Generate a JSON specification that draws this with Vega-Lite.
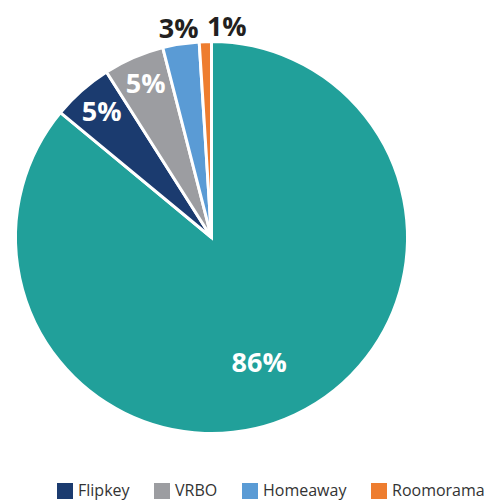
{
  "$schema": "https://vega.github.io/schema/vega-lite/v6.json",
  "width": 389,
  "height": 389,
  "autosize": {"type": "none"},
  "padding": {"left": 17, "top": 43, "right": 86, "bottom": 70},
  "background": "white",
  "data": {
    "values": [
      {"site": "Airbnb", "share": 0.86, "idx": 1},
      {"site": "Flipkey", "share": 0.05, "idx": 2},
      {"site": "VRBO", "share": 0.05, "idx": 3},
      {"site": "Homeaway", "share": 0.03, "idx": 4},
      {"site": "Roomorama", "share": 0.01, "idx": 5}
    ]
  },
  "encoding": {
    "theta": {"field": "share", "type": "quantitative", "stack": true},
    "order": {"field": "idx", "type": "quantitative"}
  },
  "layer": [
    {
      "mark": {"type": "arc", "outerRadius": 196, "stroke": "white", "strokeWidth": 3},
      "encoding": {
        "color": {
          "field": "site",
          "type": "nominal",
          "scale": {
            "domain": ["Airbnb", "Flipkey", "VRBO", "Homeaway", "Roomorama"],
            "range": ["#21A09A", "#1B3B6F", "#9C9DA1", "#5A9BD5", "#EE7D2F"]
          },
          "legend": {
            "values": ["Flipkey", "VRBO", "Homeaway", "Roomorama"],
            "title": null,
            "orient": "none",
            "direction": "horizontal",
            "legendX": 40,
            "legendY": 440,
            "columns": 4,
            "columnPadding": 24,
            "symbolType": "square",
            "symbolSize": 256,
            "symbolStrokeWidth": 0,
            "labelFont": "Open Sans",
            "labelFontSize": 16,
            "labelColor": "#333333",
            "labelOffset": 5,
            "padding": 0
          }
        }
      }
    },
    {
      "mark": {"type": "text", "radius": 140, "dx": -12, "font": "Open Sans", "fontWeight": "bold", "fontSize": 27, "color": "white", "baseline": "middle", "align": "center"},
      "encoding": {"text": {"condition": {"test": "datum.site === 'Airbnb'", "field": "share", "type": "quantitative", "format": ".0%"}, "value": ""}}
    },
    {
      "mark": {"type": "text", "radius": 166, "font": "Open Sans", "fontWeight": "bold", "fontSize": 27, "color": "white", "baseline": "middle", "align": "center"},
      "encoding": {"text": {"condition": {"test": "datum.site === 'Flipkey' || datum.site === 'VRBO'", "field": "share", "type": "quantitative", "format": ".0%"}, "value": ""}}
    },
    {
      "mark": {"type": "text", "radius": 210, "font": "Open Sans", "fontWeight": "bold", "fontSize": 27, "color": "#231F20", "baseline": "middle", "align": "center"},
      "encoding": {"text": {"condition": {"test": "datum.site === 'Homeaway'", "field": "share", "type": "quantitative", "format": ".0%"}, "value": ""}}
    },
    {
      "mark": {"type": "text", "radius": 210, "dx": 2, "font": "Open Sans", "fontWeight": "bold", "fontSize": 27, "color": "#231F20", "baseline": "middle", "align": "left"},
      "encoding": {"text": {"condition": {"test": "datum.site === 'Roomorama'", "field": "share", "type": "quantitative", "format": ".0%"}, "value": ""}}
    }
  ],
  "config": {"view": {"stroke": null}}
}
